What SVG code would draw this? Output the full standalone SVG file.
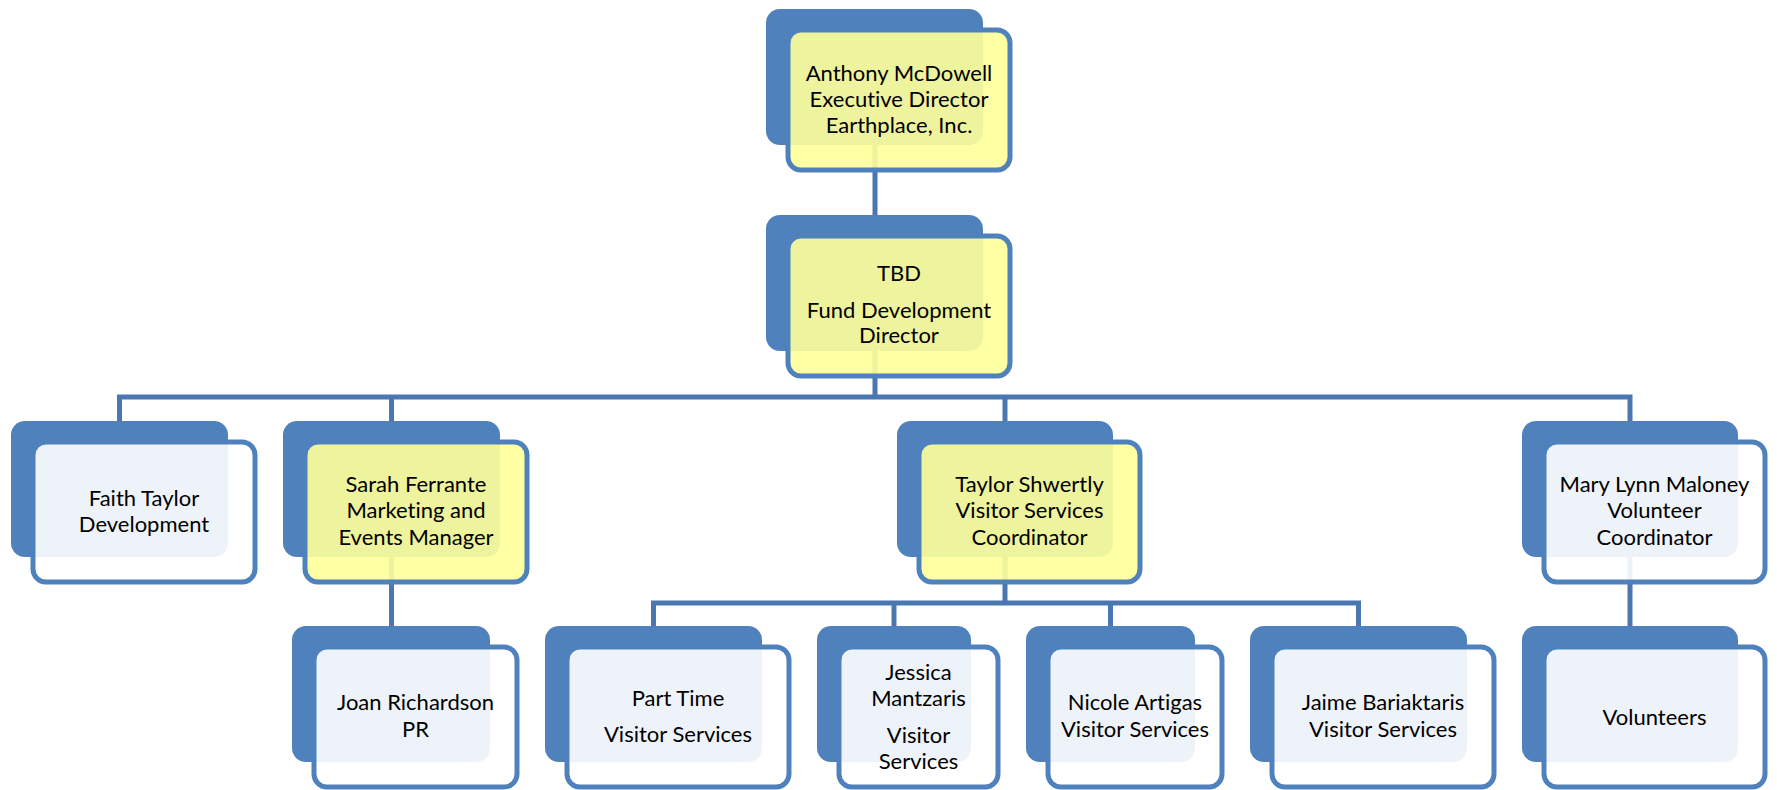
<svg xmlns="http://www.w3.org/2000/svg" width="1777" height="790" viewBox="0 0 1777 790">
<style>
.bg{fill:#fff}
.back{fill:#4f81bd}
.fw{fill:#ffffff;fill-opacity:0.9;stroke:#4f81bd;stroke-width:5}
.fy{fill:#ffff99;fill-opacity:0.9;stroke:#4f81bd;stroke-width:5}
.conn{fill:none;stroke:#4a77b2;stroke-width:5;stroke-linejoin:miter;stroke-linecap:butt}
text{font-family:Lato,"Liberation Sans",sans-serif;font-size:22px;fill:#000;text-anchor:middle;font-variant-ligatures:none;font-feature-settings:"liga" 0,"clig" 0}
</style>
<rect class="bg" x="0" y="0" width="1777" height="790"/>
<g id="connectors">
<path class="conn" d="M875,77 V215"/>
<path class="conn" d="M875,283 V397"/>
<path class="conn" d="M119.5,421 V397 H1630 V421"/>
<path class="conn" d="M391.5,397 V421"/>
<path class="conn" d="M1005,397 V421"/>
<path class="conn" d="M391.5,489 V626"/>
<path class="conn" d="M1005,489 V603"/>
<path class="conn" d="M653.5,626 V603 H1358.5 V626"/>
<path class="conn" d="M894,603 V626"/>
<path class="conn" d="M1110.5,603 V626"/>
<path class="conn" d="M1630,489 V626"/>
</g>
<g id="n-mcdowell">
<rect class="back" x="766" y="9" width="217" height="136" rx="14"/>
<rect class="fy" x="788" y="30" width="222" height="140" rx="13"/>
<text x="899" y="81">Anthony McDowell</text>
<text x="899" y="107">Executive Director</text>
<text x="899" y="133">Earthplace, Inc.</text>
</g>
<g id="n-tbd">
<rect class="back" x="766" y="215" width="217" height="136" rx="14"/>
<rect class="fy" x="788" y="236" width="222" height="140" rx="13"/>
<text x="899" y="281">TBD</text>
<text x="899" y="318">Fund Development</text>
<text x="899" y="343">Director</text>
</g>
<g id="n-faith">
<rect class="back" x="11" y="421" width="217" height="136" rx="14"/>
<rect class="fw" x="33" y="442" width="222" height="140" rx="13"/>
<text x="144" y="506">Faith Taylor</text>
<text x="144" y="532">Development</text>
</g>
<g id="n-sarah">
<rect class="back" x="283" y="421" width="217" height="136" rx="14"/>
<rect class="fy" x="305" y="442" width="222" height="140" rx="13"/>
<text x="416" y="492">Sarah Ferrante</text>
<text x="416" y="518">Marketing and</text>
<text x="416" y="545">Events Manager</text>
</g>
<g id="n-taylor">
<rect class="back" x="897" y="421" width="216" height="136" rx="14"/>
<rect class="fy" x="919" y="442" width="221" height="140" rx="13"/>
<text x="1029.5" y="492">Taylor Shwertly</text>
<text x="1029.5" y="518">Visitor Services</text>
<text x="1029.5" y="545">Coordinator</text>
</g>
<g id="n-mary">
<rect class="back" x="1522" y="421" width="216" height="136" rx="14"/>
<rect class="fw" x="1544" y="442" width="221" height="140" rx="13"/>
<text x="1654.5" y="492">Mary Lynn Maloney</text>
<text x="1654.5" y="518">Volunteer</text>
<text x="1654.5" y="545">Coordinator</text>
</g>
<g id="n-joan">
<rect class="back" x="292" y="626" width="198" height="136" rx="14"/>
<rect class="fw" x="314" y="647" width="203" height="140" rx="13"/>
<text x="415.5" y="710">Joan Richardson</text>
<text x="415.5" y="737">PR</text>
</g>
<g id="n-parttime">
<rect class="back" x="545" y="626" width="217" height="136" rx="14"/>
<rect class="fw" x="567" y="647" width="222" height="140" rx="13"/>
<text x="678" y="706">Part Time</text>
<text x="678" y="742">Visitor Services</text>
</g>
<g id="n-jessica">
<rect class="back" x="817" y="626" width="154" height="136" rx="14"/>
<rect class="fw" x="839" y="647" width="159" height="140" rx="13"/>
<text x="918.5" y="680">Jessica</text>
<text x="918.5" y="706">Mantzaris</text>
<text x="918.5" y="743">Visitor</text>
<text x="918.5" y="769">Services</text>
</g>
<g id="n-nicole">
<rect class="back" x="1026" y="626" width="169" height="136" rx="14"/>
<rect class="fw" x="1048" y="647" width="174" height="140" rx="13"/>
<text x="1135" y="710">Nicole Artigas</text>
<text x="1135" y="737">Visitor Services</text>
</g>
<g id="n-jaime">
<rect class="back" x="1250" y="626" width="217" height="136" rx="14"/>
<rect class="fw" x="1272" y="647" width="222" height="140" rx="13"/>
<text x="1383" y="710">Jaime Bariaktaris</text>
<text x="1383" y="737">Visitor Services</text>
</g>
<g id="n-volunteers">
<rect class="back" x="1522" y="626" width="216" height="136" rx="14"/>
<rect class="fw" x="1544" y="647" width="221" height="140" rx="13"/>
<text x="1654.5" y="725">Volunteers</text>
</g>
</svg>
